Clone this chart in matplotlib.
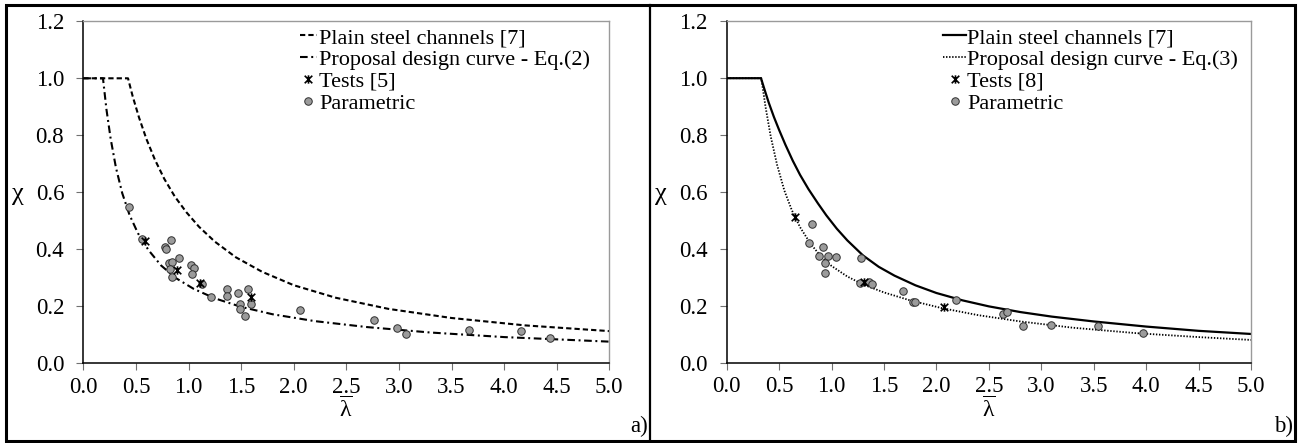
import matplotlib
matplotlib.use("Agg")
import matplotlib.pyplot as plt
from matplotlib.path import Path
from matplotlib.lines import Line2D
from matplotlib.patches import Rectangle
from matplotlib.ticker import MultipleLocator, FormatStrFormatter

plt.rcParams['font.family'] = ['Liberation Serif', 'DejaVu Serif']
plt.rcParams['mathtext.fontset'] = 'custom'
plt.rcParams['mathtext.rm'] = 'Liberation Serif'
plt.rcParams['mathtext.it'] = 'Liberation Serif:italic'
plt.rcParams['lines.scale_dashes'] = False

# ---- panel a) ----
a_plain_x = [0.0, 0.425, 0.47, 0.53, 0.60, 0.68, 0.77, 0.87, 0.98, 1.10, 1.25,
             1.45, 1.70, 2.00, 2.40, 2.90, 3.50, 4.20, 5.00]
a_plain_y = [1.0, 1.0, 0.936, 0.862, 0.787, 0.715, 0.647, 0.585, 0.530, 0.479,
             0.427, 0.372, 0.321, 0.274, 0.230, 0.191, 0.159, 0.133, 0.113]
a_prop_x = [0.0, 0.187, 0.22, 0.26, 0.31, 0.37, 0.44, 0.52, 0.62, 0.74, 0.88,
            1.05, 1.25, 1.50, 1.80, 2.20, 2.70, 3.30, 4.00, 5.00]
a_prop_y = [1.0, 1.0, 0.891, 0.788, 0.687, 0.597, 0.520, 0.456, 0.397, 0.343,
            0.299, 0.261, 0.228, 0.198, 0.172, 0.148, 0.127, 0.108, 0.092, 0.076]
a_test_x = [0.585, 0.894, 1.108, 1.590]
a_test_y = [0.430, 0.327, 0.281, 0.231]
a_par_x = [0.435, 0.561, 0.774, 0.789, 0.836, 0.905, 0.811, 0.845, 0.826, 0.842,
           1.025, 1.052, 1.035, 1.130, 1.215, 1.370, 1.370, 1.474, 1.566, 1.598,
           1.493, 1.486, 1.540, 2.063, 2.763, 2.984, 3.070, 3.670, 4.163, 4.436]
a_par_y = [0.547, 0.436, 0.409, 0.401, 0.433, 0.369, 0.353, 0.357, 0.332, 0.304,
           0.345, 0.334, 0.315, 0.277, 0.231, 0.260, 0.236, 0.247, 0.260, 0.207,
           0.207, 0.192, 0.166, 0.188, 0.153, 0.124, 0.103, 0.116, 0.113, 0.090]

# ---- panel b) ----
b_plain_x = [0.0, 0.327, 0.36, 0.40, 0.45, 0.50, 0.56, 0.63, 0.70, 0.78, 0.87,
             0.95, 1.05, 1.15, 1.30, 1.45, 1.60, 1.80, 2.00, 2.25, 2.50, 2.80,
             3.10, 3.50, 4.00, 4.50, 5.00]
b_plain_y = [1.0, 1.0, 0.961, 0.915, 0.864, 0.818, 0.766, 0.710, 0.660, 0.610,
             0.560, 0.518, 0.471, 0.430, 0.377, 0.337, 0.306, 0.272, 0.245,
             0.219, 0.198, 0.178, 0.162, 0.145, 0.127, 0.112, 0.101]
b_prop_x = [0.0, 0.33, 0.37, 0.42, 0.48, 0.55, 0.62, 0.70, 0.80, 0.90, 1.00,
            1.15, 1.30, 1.50, 1.75, 2.05, 2.40, 2.80, 3.30, 3.90, 4.50, 5.00]
b_prop_y = [1.0, 1.0, 0.900, 0.795, 0.696, 0.605, 0.537, 0.476, 0.418, 0.373,
            0.340, 0.303, 0.275, 0.247, 0.219, 0.192, 0.167, 0.145, 0.123,
            0.104, 0.090, 0.080]
b_test_x = [0.656, 1.307, 2.077]
b_test_y = [0.512, 0.282, 0.195]
b_par_x = [0.810, 0.788, 0.921, 0.883, 0.969, 1.042, 0.937, 0.940, 1.280, 1.274,
           1.360, 1.382, 1.678, 1.773, 1.795, 2.186, 2.631, 2.672, 2.825, 3.092,
           3.543, 3.966]
b_par_y = [0.489, 0.419, 0.407, 0.375, 0.375, 0.372, 0.349, 0.314, 0.368, 0.279,
           0.282, 0.276, 0.253, 0.214, 0.214, 0.220, 0.170, 0.179, 0.130, 0.133,
           0.129, 0.103]

a_labels = ["Plain steel channels [7]", "Proposal design curve - Eq.(2)",
            "Tests [5]", "Parametric"]
b_labels = ["Plain steel channels [7]", "Proposal design curve - Eq.(3)",
            "Tests [8]", "Parametric"]

# star marker: an x with a vertical bar through it
star = Path([(-1, -1), (1, 1), (-1, 1), (1, -1), (0, -1.1), (0, 1.1)],
            [Path.MOVETO, Path.LINETO, Path.MOVETO, Path.LINETO,
             Path.MOVETO, Path.LINETO])

W, H = 1298, 443
fig = plt.figure(figsize=(W / 100, H / 100), dpi=100)


def rect(x0, x1, ytop, ybot):
    return [x0 / W, 1 - ybot / H, (x1 - x0) / W, (ybot - ytop) / H]


axA = fig.add_axes(rect(83.3, 609.3, 21.3, 363.3))
axB = fig.add_axes(rect(726.7, 1251.0, 21.3, 362.7))

FS = 16


def style(ax):
    ax.set_xlim(0, 5)
    ax.set_ylim(0, 1.2)
    ax.xaxis.set_major_locator(MultipleLocator(0.5))
    ax.yaxis.set_major_locator(MultipleLocator(0.2))
    ax.xaxis.set_major_formatter(FormatStrFormatter('%.1f'))
    ax.yaxis.set_major_formatter(FormatStrFormatter('%.1f'))
    for s in ('left', 'bottom'):
        ax.spines[s].set_color('black')
        ax.spines[s].set_linewidth(1.1)
    for s in ('top', 'right'):
        ax.spines[s].set_color('#9a9a9a')
        ax.spines[s].set_linewidth(1.0)
    ax.tick_params(direction='out', length=4.8, width=0.8, color='#707070',
                   labelsize=16.5, labelcolor='black')
    ax.tick_params(axis='y', pad=9)
    ax.tick_params(axis='x', pad=5)


def scatter(ax, tx, ty, px, py, tlab, plab):
    ax.plot(tx, ty, linestyle='none', marker=star, markersize=6.0,
            markeredgewidth=1.2, color='black', label=tlab, zorder=4)
    ax.plot(px, py, linestyle='none', marker='o', markersize=5.4,
            markerfacecolor='#9b9b9b', markeredgecolor='#303030',
            markeredgewidth=0.7, label=plab, zorder=3)


# panel a)
style(axA)
axA.plot(a_plain_x, a_plain_y, color='black', lw=1.5,
         linestyle=(0, (3.8, 2.2)), label=a_labels[0])
axA.plot(a_prop_x, a_prop_y, color='black', lw=1.5,
         linestyle=(0, (5.5, 2.6, 1.4, 2.6)), label=a_labels[1])
scatter(axA, a_test_x, a_test_y, a_par_x, a_par_y, a_labels[2], a_labels[3])
axA.legend(loc='upper left', bbox_to_anchor=(0.412, 0.982), frameon=False,
           borderpad=0, borderaxespad=0, handlelength=0.75, handletextpad=0.1,
           labelspacing=0.06, fontsize=FS, numpoints=1)

# panel b)
style(axB)
axB.plot(b_plain_x, b_plain_y, color='black', lw=1.6, linestyle='-',
         label=b_labels[0])
axB.plot(b_prop_x, b_prop_y, color='black', lw=1.3,
         linestyle=(0, (1.0, 1.2)), label=b_labels[1])
scatter(axB, b_test_x, b_test_y, b_par_x, b_par_y, b_labels[2], b_labels[3])
axB.legend(loc='upper left', bbox_to_anchor=(0.4125, 0.982), frameon=False,
           borderpad=0, borderaxespad=0, handlelength=1.05, handletextpad=0.05,
           labelspacing=0.06, fontsize=FS, numpoints=1)

# axis titles
for xc in (18, 661):
    fig.text(xc / W, 1 - 194 / H, '\u03c7', ha='center', va='center', fontsize=19)
for xc in (346, 989):
    fig.text(xc / W, 1 - 397 / H, r'$\overline{\mathrm{\lambda}}$',
             ha='center', va='top', fontsize=17)

# panel tags
fig.text(648 / W, 1 - 432 / H, 'a)', ha='right', va='baseline', fontsize=16.5)
fig.text(1293 / W, 1 - 432 / H, 'b)', ha='right', va='baseline', fontsize=16.5)

# outer frame and divider
fig.add_artist(Rectangle((6 / W, 2 / H), 1289 / W, 436 / H, fill=False,
                         lw=2.2, edgecolor='black', transform=fig.transFigure))
fig.add_artist(Line2D([650 / W, 650 / W], [2 / H, 438 / H], lw=1.6,
                      color='black', transform=fig.transFigure))

fig.savefig('out.png', dpi=100)
